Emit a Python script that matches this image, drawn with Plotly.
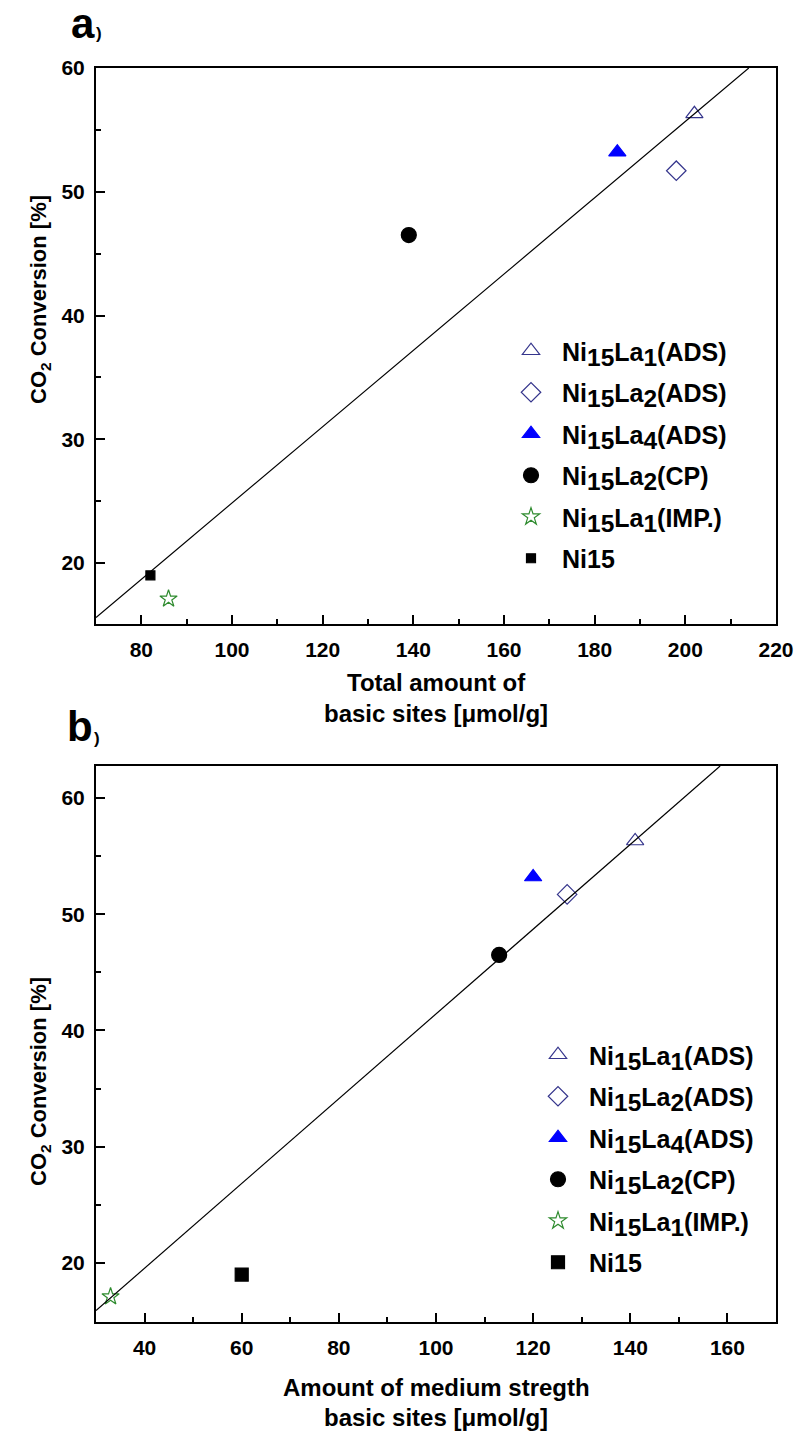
import plotly.graph_objects as go

# ---------------- data ----------------
SUB = "<sub><span style='font-size:140%%'>%s</span></sub>"
names = ["Ni" + SUB % "15" + "La" + SUB % "1" + "(ADS)",
         "Ni" + SUB % "15" + "La" + SUB % "2" + "(ADS)",
         "Ni" + SUB % "15" + "La" + SUB % "4" + "(ADS)",
         "Ni" + SUB % "15" + "La" + SUB % "2" + "(CP)",
         "Ni" + SUB % "15" + "La" + SUB % "1" + "(IMP.)",
         "Ni15"]
conversion = [56.3, 51.7, 53.2, 46.5, 17.1, 19.0]
total_basic = [202, 198, 185, 139, 86, 82]
medium_basic = [141, 127, 120, 113, 33, 60]

fit_a_x = [70, 214]
fit_a_y = [15.6, 60]
fit_b_x = [30, 158.5]
fit_b_y = [15.9, 62.75]

xa_ticks = [80, 100, 120, 140, 160, 180, 200, 220]
xb_ticks = [40, 60, 80, 100, 120, 140, 160]
y_ticks = [20, 30, 40, 50, 60]

# ---------------- styles ----------------
symbols = ["triangle-up-open", "diamond-open", "triangle-up", "circle", "star-open", "square"]
colors = ["#35358c", "#35358c", "#0000ff", "#000000", "#2e8b2e", "#000000"]
sizes_a = [15, 15, 15, 15, 13, 9]
sizes_b = [15, 15, 15, 15, 13, 13]

W, H = 796, 1434
ML, MR, MT, MB = 96, 20, 68, 112
PW, PH = W - ML - MR, H - MT - MB


def px(x):
    return (x - ML) / PW


def py(y):
    return 1 - (y - MT) / PH


FONT = "Liberation Sans, Arial, sans-serif"

fig = go.Figure()

for i in range(len(names)):
    fig.add_trace(go.Scatter(
        x=[total_basic[i]], y=[conversion[i]], mode="markers", name=names[i],
        legend="legend", legendgroup="a%d" % i,
        marker=dict(symbol=symbols[i], size=sizes_a[i], color=colors[i],
                    line=dict(color=colors[i], width=1.2)),
        xaxis="x", yaxis="y"))
fig.add_trace(go.Scatter(x=fit_a_x, y=fit_a_y, mode="lines", showlegend=False,
                         line=dict(color="black", width=1.2), xaxis="x", yaxis="y"))

for i in range(len(names)):
    fig.add_trace(go.Scatter(
        x=[medium_basic[i]], y=[conversion[i]], mode="markers", name=names[i],
        legend="legend2", legendgroup="b%d" % i,
        marker=dict(symbol=symbols[i], size=sizes_b[i], color=colors[i],
                    line=dict(color=colors[i], width=1.2)),
        xaxis="x2", yaxis="y2"))
fig.add_trace(go.Scatter(x=fit_b_x, y=fit_b_y, mode="lines", showlegend=False,
                         line=dict(color="black", width=1.2), xaxis="x2", yaxis="y2"))

axis_common = dict(showline=True, linewidth=2, linecolor="black", mirror=True,
                   ticks="inside", ticklen=9, tickwidth=2, tickcolor="black",
                   showgrid=False, zeroline=False, automargin=False,
                   tickfont=dict(family=FONT, size=21, color="black", weight="bold"))

top_dom = [1 - (624 - MT) / PH, 1]
bot_dom = [0, 1 - (766 - MT) / PH]

minor_common = dict(ticks="inside", ticklen=5, tickwidth=1.5, tickcolor="black", tickmode="linear")
legend_font = dict(family=FONT, size=25, color="black", weight="bold")

fig.update_layout(
    width=W, height=H, margin=dict(l=ML, r=MR, t=MT, b=MB), autosize=False,
    plot_bgcolor="white", paper_bgcolor="white",
    xaxis=dict(domain=[0, 1], anchor="y", range=[70, 220], tickmode="array", tickvals=xa_ticks,
               ticklabelstandoff=6, minor=dict(tick0=70, dtick=10, **minor_common),
               **axis_common),
    yaxis=dict(domain=top_dom, anchor="x", range=[15.07, 60], tickmode="array", tickvals=y_ticks,
               ticklabelstandoff=5, minor=dict(tick0=15, dtick=5, **minor_common),
               **axis_common),
    xaxis2=dict(domain=[0, 1], anchor="y2", range=[30, 170], tickmode="array", tickvals=xb_ticks,
                ticklabelstandoff=6, minor=dict(tick0=30, dtick=10, **minor_common),
                **axis_common),
    yaxis2=dict(domain=bot_dom, anchor="x2", range=[14.92, 62.75], tickmode="array", tickvals=y_ticks,
                ticklabelstandoff=5, minor=dict(tick0=15, dtick=5, **minor_common),
                **axis_common),
    legend=dict(x=px(500), y=py(328), xanchor="left", yanchor="top", font=legend_font,
                bgcolor="rgba(0,0,0,0)", tracegroupgap=6, traceorder="grouped",
                itemsizing="trace", itemwidth=52),
    legend2=dict(x=px(527), y=py(1032), xanchor="left", yanchor="top", font=legend_font,
                 bgcolor="rgba(0,0,0,0)", tracegroupgap=6, traceorder="grouped",
                 itemsizing="trace", itemwidth=52),
    showlegend=True,
)

ann_font = dict(family=FONT, size=22, color="black", weight="bold")
title_font = dict(family=FONT, size=24, color="black", weight="bold")
annotations = [
    dict(text="CO<sub>2</sub> Conversion [%]", x=px(40), y=py(300), textangle=-90, font=ann_font),
    dict(text="CO<sub>2</sub> Conversion [%]", x=px(40), y=py(1082), textangle=-90, font=ann_font),
    dict(text="Total amount of", x=px(436), y=py(683), font=title_font),
    dict(text="basic sites [μmol/g]", x=px(436), y=py(713), font=title_font),
    dict(text="Amount of medium stregth", x=px(436), y=py(1387), font=title_font),
    dict(text="basic sites [μmol/g]", x=px(436), y=py(1417), font=title_font),
    dict(text="a", x=px(83), y=py(24), font=dict(family=FONT, size=42, color="black", weight="bold")),
    dict(text=")", x=px(99), y=py(34), font=dict(family=FONT, size=17, color="black", weight="bold")),
    dict(text="b", x=px(80), y=py(727), font=dict(family=FONT, size=42, color="black", weight="bold")),
    dict(text=")", x=px(97), y=py(738), font=dict(family=FONT, size=17, color="black", weight="bold")),
]
for a in annotations:
    a.update(xref="paper", yref="paper", showarrow=False, xanchor="center", yanchor="middle")
fig.update_layout(annotations=annotations)

fig.write_html("out.html",
               config={"displayModeBar": False, "responsive": False},
               post_script="document.body.style.margin='0';document.body.style.overflow='hidden';")
